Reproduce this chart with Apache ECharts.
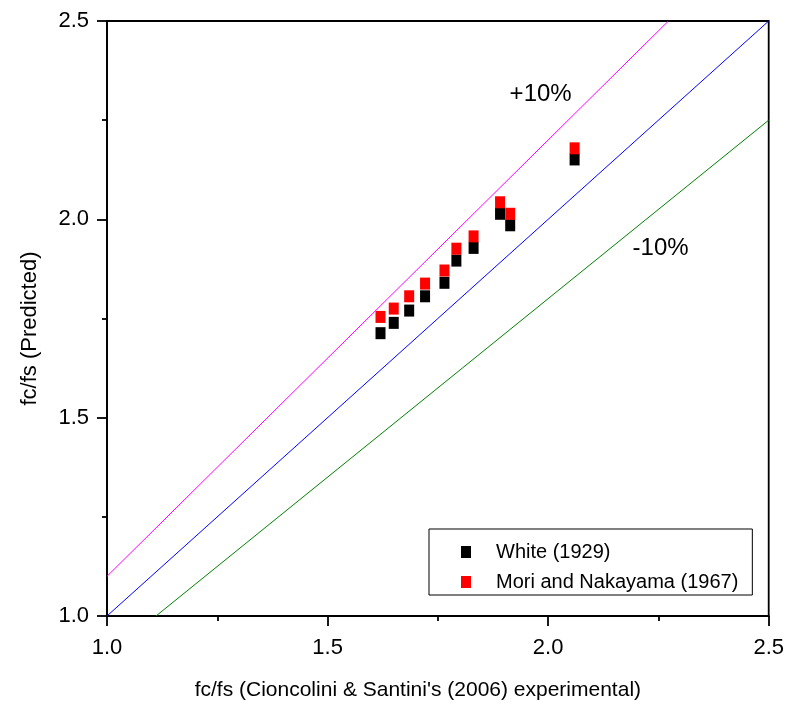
<!DOCTYPE html>
<html>
<head>
<meta charset="utf-8">
<script src="https://cdn.jsdelivr.net/npm/echarts@6/dist/echarts.min.js"></script>
<style>
html,body{margin:0;padding:0;background:#fff;}
#chart{width:787px;height:709px;}
</style>
</head>
<body>
<div id="chart"></div>
<script>
// Experimental fc/fs (x) values
var xExp = [1.620, 1.650, 1.685, 1.721, 1.765, 1.792, 1.831, 1.891, 1.914, 2.060];
// Predicted values
var whiteVals = [1.713, 1.739, 1.770, 1.806, 1.840, 1.896, 1.928, 2.014, 1.985, 2.151];
var moriVals  = [1.754, 1.775, 1.806, 1.838, 1.871, 1.926, 1.957, 2.043, 2.014, 2.179];
// Reference lines (endpoints)
var linePlus10  = [[1.0, 1.1], [2.2727, 2.5]];
var lineEqual   = [[1.0, 1.0], [2.5, 2.5]];
var lineMinus10 = [[1.1111, 1.0], [2.5, 2.25]];
var annotations = [{name: '+10%', value: [1.983, 2.315]}, {name: '-10%', value: [2.255, 1.926]}];
var seriesNames = ['White (1929)', 'Mori and Nakayama (1967)'];

var FONT = '"Liberation Sans", Arial, sans-serif';

function pairs(xs, ys){ return xs.map(function(x,i){ return [x, ys[i]]; }); }

var chart = echarts.init(document.getElementById('chart'), null, {renderer:'canvas'});
var axisCommon = {
  min: 1, max: 2.5, interval: 0.5,
  axisLine: {show: true, onZero: false, lineStyle: {color: '#000', width: 1.8}},
  axisTick: {show: true, inside: false, length: 10, lineStyle: {color: '#000', width: 1.8}},
  minorTick: {show: true, splitNumber: 2, length: 5, lineStyle: {color: '#000', width: 1.8}},
  splitLine: {show: false},
  axisLabel: {color: '#000', fontSize: 22, fontFamily: FONT, formatter: function(v){ return v.toFixed(1); }}
};
chart.setOption({
  animation: false,
  backgroundColor: '#fff',
  grid: {left: 107, right: 18, top: 21, bottom: 93, show: true, borderColor: '#000', borderWidth: 1.8, backgroundColor: 'transparent'},
  xAxis: Object.assign({}, axisCommon, {
    type: 'value',
    name: "fc/fs (Cioncolini & Santini's (2006) experimental)",
    nameLocation: 'middle', nameGap: 64,
    nameTextStyle: {color: '#000', fontSize: 21, fontFamily: FONT, padding: [0, 40, 0, 0]},
    axisLabel: Object.assign({}, axisCommon.axisLabel, {margin: 21})
  }),
  yAxis: Object.assign({}, axisCommon, {
    type: 'value',
    name: 'fc/fs (Predicted)',
    nameLocation: 'middle', nameGap: 66,
    nameTextStyle: {color: '#000', fontSize: 22, fontFamily: FONT, padding: [0, 20, 0, 0]},
    axisLabel: Object.assign({}, axisCommon.axisLabel, {margin: 18})
  }),
  legend: {
    data: seriesNames,
    orient: 'vertical', left: 429, top: 529,
    padding: [13, 14, 3, 32], itemGap: 10,
    itemWidth: 10, itemHeight: 12,
    borderColor: '#000', borderWidth: 1, backgroundColor: '#fff',
    textStyle: {color: '#000', fontSize: 20, fontFamily: FONT, padding: [0, 0, 0, 20]}
  },
  series: [
    {type: 'line', data: linePlus10, symbol: 'none', lineStyle: {color: '#ff00ff', width: 1}, silent: true, z: 1},
    {type: 'line', data: lineEqual, symbol: 'none', lineStyle: {color: '#0000ff', width: 1}, silent: true, z: 1},
    {type: 'line', data: lineMinus10, symbol: 'none', lineStyle: {color: '#008000', width: 1}, silent: true, z: 1},
    {name: seriesNames[0], type: 'scatter', data: pairs(xExp, whiteVals), symbol: 'rect', symbolSize: [10, 12], itemStyle: {color: '#000', opacity: 1}, z: 3},
    {name: seriesNames[1], type: 'scatter', data: pairs(xExp, moriVals), symbol: 'rect', symbolSize: [10, 12], itemStyle: {color: '#ff0000', opacity: 1}, z: 4},
    {type: 'scatter', data: annotations, symbolSize: 0, silent: true, itemStyle: {opacity: 1},
     label: {show: true, position: 'inside', formatter: function(p){ return p.name; }, color: '#000', fontSize: 24, fontFamily: FONT}}
  ]
});
</script>
</body>
</html>
